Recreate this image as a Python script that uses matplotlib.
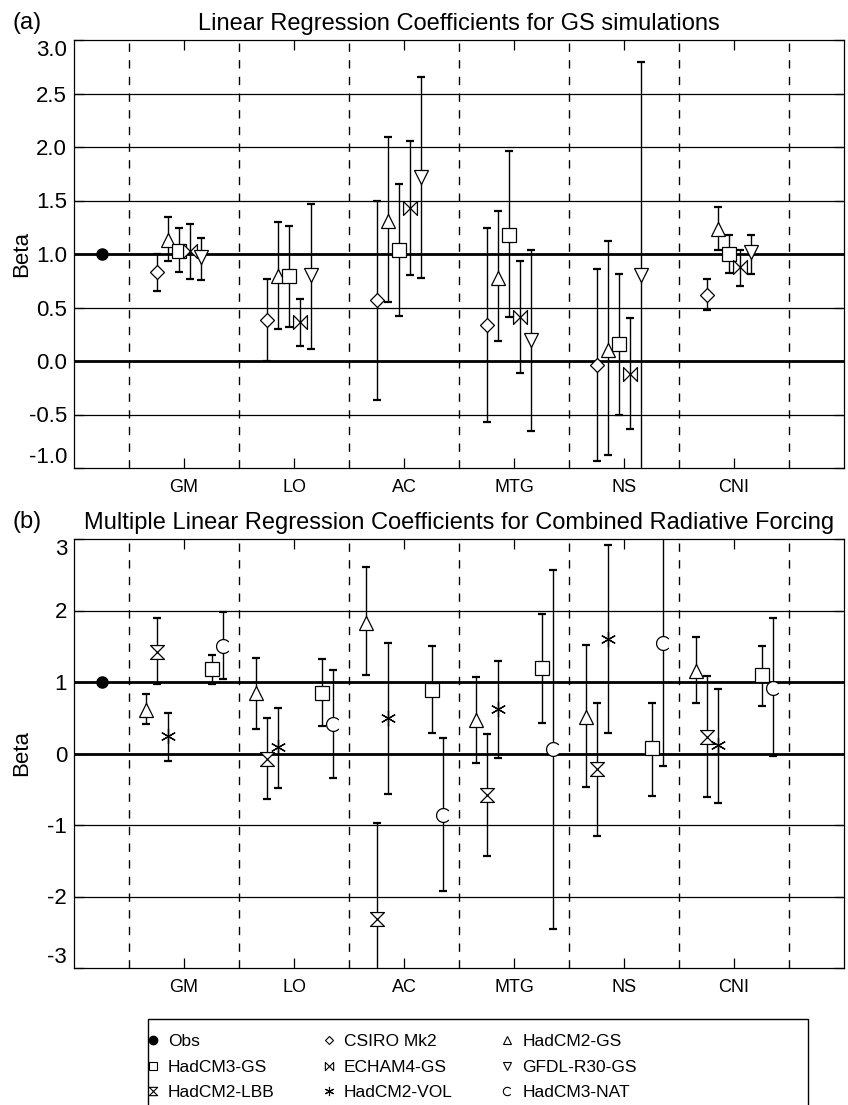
import numpy as np
import matplotlib
matplotlib.use("Agg")
import matplotlib.pyplot as plt
from matplotlib.path import Path
from matplotlib.lines import Line2D
from matplotlib.patches import Rectangle

plt.rcParams["font.family"] = ["Liberation Sans", "DejaVu Sans"]

# ---------------------------------------------------------------- data
regions = ["GM", "LO", "AC", "MTG", "NS", "CNI"]
obs_beta = 1.0

# (a) single-pattern regression, GS simulations
csiro = [0.83, 0.38, 0.57, 0.34, -0.04, 0.62]
csiro_lo = [0.65, 0.00, -0.36, -0.57, -0.93, 0.48]
csiro_hi = [1.00, 0.77, 1.50, 1.24, 0.86, 0.77]

hadcm2_gs_a = [1.13, 0.79, 1.31, 0.78, 0.10, 1.23]
hadcm2_gs_a_lo = [0.93, 0.30, 0.55, 0.19, -0.88, 1.04]
hadcm2_gs_a_hi = [1.35, 1.30, 2.09, 1.40, 1.12, 1.44]

hadcm3_gs_a = [1.03, 0.79, 1.04, 1.18, 0.16, 1.00]
hadcm3_gs_a_lo = [0.83, 0.32, 0.42, 0.41, -0.50, 0.82]
hadcm3_gs_a_hi = [1.24, 1.26, 1.65, 1.96, 0.81, 1.18]

echam4 = [1.03, 0.36, 1.43, 0.41, -0.12, 0.88]
echam4_lo = [0.77, 0.14, 0.80, -0.11, -0.64, 0.70]
echam4_hi = [1.28, 0.58, 2.06, 0.93, 0.40, 1.04]

gfdl = [0.97, 0.80, 1.72, 0.20, 0.80, 1.02]
gfdl_lo = [0.76, 0.11, 0.78, -0.65, -1.30, 0.81]
gfdl_hi = [1.15, 1.47, 2.65, 1.04, 2.79, 1.18]

# (b) multiple regression, combined forcing
hadcm2_gs_b = [0.61, 0.84, 1.83, 0.47, 0.51, 1.16]
hadcm2_gs_b_lo = [0.41, 0.34, 1.10, -0.13, -0.47, 0.71]
hadcm2_gs_b_hi = [0.83, 1.34, 2.61, 1.07, 1.52, 1.63]

lbb = [1.42, -0.08, -2.31, -0.58, -0.22, 0.23]
lbb_lo = [0.97, -0.64, -3.30, -1.43, -1.15, -0.61]
lbb_hi = [1.90, 0.50, -0.97, 0.27, 0.70, 1.09]

vol = [0.24, 0.09, 0.49, 0.62, 1.60, 0.12]
vol_lo = [-0.10, -0.48, -0.56, -0.06, 0.29, -0.69]
vol_hi = [0.57, 0.63, 1.54, 1.29, 2.91, 0.90]

hadcm3_gs_b = [1.18, 0.85, 0.89, 1.19, 0.07, 1.10]
hadcm3_gs_b_lo = [0.97, 0.38, 0.28, 0.42, -0.59, 0.67]
hadcm3_gs_b_hi = [1.38, 1.32, 1.50, 1.95, 0.71, 1.51]

nat = [1.51, 0.41, -0.86, 0.06, 1.54, 0.91]
nat_lo = [1.04, -0.34, -1.93, -2.45, -0.17, -0.03]
nat_hi = [1.98, 1.17, 0.21, 2.57, 3.40, 1.89]

# ---------------------------------------------------------------- markers
bowtie = Path([(-1, -1), (-1, 1), (1, -1), (1, 1), (-1, -1)],
              [Path.MOVETO, Path.LINETO, Path.LINETO, Path.LINETO, Path.CLOSEPOLY])
hourglass = Path([(-1, 1), (1, 1), (-1, -1), (1, -1), (-1, 1)],
                 [Path.MOVETO, Path.LINETO, Path.LINETO, Path.LINETO, Path.CLOSEPOLY])
c_arc = Path.arc(40, 320)
asterisk = (6, 2, 0)

styles = {
    "CSIRO Mk2": dict(marker="D", ms=7.0),
    "HadCM2-GS": dict(marker="^", ms=10),
    "HadCM3-GS": dict(marker="s", ms=10),
    "ECHAM4-GS": dict(marker=bowtie, ms=10),
    "GFDL-R30-GS": dict(marker="v", ms=10),
    "HadCM2-LBB": dict(marker=hourglass, ms=10),
    "HadCM2-VOL": dict(marker=asterisk, ms=11),
    "HadCM3-NAT": dict(marker=c_arc, ms=10),
}

panel_a = [
    ("CSIRO Mk2", -0.25, csiro, csiro_lo, csiro_hi),
    ("HadCM2-GS", -0.15, hadcm2_gs_a, hadcm2_gs_a_lo, hadcm2_gs_a_hi),
    ("HadCM3-GS", -0.05, hadcm3_gs_a, hadcm3_gs_a_lo, hadcm3_gs_a_hi),
    ("ECHAM4-GS", 0.05, echam4, echam4_lo, echam4_hi),
    ("GFDL-R30-GS", 0.15, gfdl, gfdl_lo, gfdl_hi),
]
panel_b = [
    ("HadCM2-GS", -0.35, hadcm2_gs_b, hadcm2_gs_b_lo, hadcm2_gs_b_hi),
    ("HadCM2-LBB", -0.25, lbb, lbb_lo, lbb_hi),
    ("HadCM2-VOL", -0.15, vol, vol_lo, vol_hi),
    ("HadCM3-GS", 0.25, hadcm3_gs_b, hadcm3_gs_b_lo, hadcm3_gs_b_hi),
    ("HadCM3-NAT", 0.35, nat, nat_lo, nat_hi),
]

W, H = 848, 1105
fig = plt.figure(figsize=(W / 100, H / 100), dpi=100)


def px_axes(left, top, right, bottom):
    return fig.add_axes([left / W, 1 - bottom / H, (right - left) / W, (bottom - top) / H])


def draw_panel(ax, series, ylim, yticks, yticklabels, title, tag, tag_y):
    xpos = np.arange(1, len(regions) + 1)
    ax.set_xlim(0, 7)
    ax.set_ylim(*ylim)

    for yv in yticks:
        if yv in (0, 1):
            ax.axhline(yv, color="k", lw=2.0, zorder=1)
        elif ylim[0] < yv < ylim[1]:
            ax.axhline(yv, color="k", lw=0.9, zorder=1)
    for xv in np.arange(0.5, 7.0, 1.0):
        ax.axvline(xv, color="k", lw=1.0, ls=(0, (6, 6)), zorder=1)

    ax.plot([0.25], [obs_beta], ls="none", marker="o", ms=8, color="k", zorder=4)

    for name, off, vals, lo, hi in series:
        v = np.array(vals)
        err = np.vstack([v - np.array(lo), np.array(hi) - v])
        st = styles[name]
        ax.errorbar(xpos + off, v, yerr=err, fmt="none", ecolor="k",
                    elinewidth=1.0, capsize=2.6, capthick=1.6, zorder=2)
        ax.plot(xpos + off, v, ls="none", marker=st["marker"], ms=st["ms"],
                mfc="white", mec="k", mew=0.9, zorder=3)

    ax.set_xticks(xpos)
    ax.set_xticklabels(regions, fontsize=13)
    ax.set_yticks(yticks)
    ax.set_yticklabels(yticklabels, fontsize=16)
    ax.tick_params(axis="x", direction="in", length=7, width=0.9, top=True, pad=8)
    ax.tick_params(axis="y", direction="in", length=7, width=0.9, right=True, pad=5)
    ticks = ax.yaxis.get_major_ticks()
    ticks[0].label1.set_va("bottom")
    ticks[-1].label1.set_va("top")
    for sp in ax.spines.values():
        sp.set_linewidth(0.9)
    ax.set_title(title, fontsize=17, pad=7)
    ax.set_ylabel("Beta", fontsize=16)
    ax.yaxis.set_label_coords(-0.054, 0.5)
    fig.text(12 / W, 1 - tag_y / H, tag, fontsize=17, va="baseline", ha="left")


ax_a = px_axes(74, 40, 844, 468)
yt_a = [-1.0, -0.5, 0.0, 0.5, 1.0, 1.5, 2.0, 2.5, 3.0]
draw_panel(ax_a, panel_a, (-1.0, 3.0), yt_a, [f"{t:.1f}" for t in yt_a],
           "Linear Regression Coefficients for GS simulations", "(a)", 29)

ax_b = px_axes(74, 539, 844, 968)
yt_b = [-3, -2, -1, 0, 1, 2, 3]
draw_panel(ax_b, panel_b, (-3.0, 3.0), yt_b, [str(t) for t in yt_b],
           "Multiple Linear Regression Coefficients for Combined Radiative Forcing", "(b)", 528)

# ---------------------------------------------------------------- legend
def handle(name=None, obs=False):
    if obs:
        return Line2D([], [], ls="none", marker="o", ms=6, color="k")
    st = styles[name]
    return Line2D([], [], ls="none", marker=st["marker"], ms=st["ms"] * 0.6,
                  mfc="white", mec="k", mew=0.8)


leg_names = ["Obs", "HadCM3-GS", "HadCM2-LBB",
             "CSIRO Mk2", "ECHAM4-GS", "HadCM2-VOL",
             "HadCM2-GS", "GFDL-R30-GS", "HadCM3-NAT"]
leg_handles = [handle(obs=True) if n == "Obs" else handle(n) for n in leg_names]
fig.legend(leg_handles, leg_names, ncol=3, loc="upper left",
           bbox_to_anchor=(133 / W, 1 - 1021 / H), frameon=False, fontsize=12.5,
           handlelength=0.8, handletextpad=0.45, columnspacing=2.75,
           labelspacing=0.6, borderpad=0.75, borderaxespad=0)
fig.patches.append(Rectangle((148 / W, -0.05), (808 - 148) / W, 0.05 + 1 - 1019 / H,
                             transform=fig.transFigure, fill=False, ec="k", lw=1.0))

fig.savefig("out.png", dpi=100)
